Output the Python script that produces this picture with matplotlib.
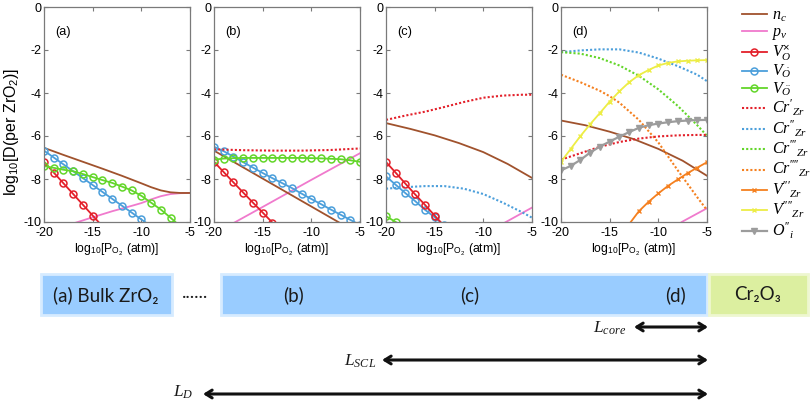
import matplotlib
matplotlib.use("Agg")
import matplotlib.pyplot as plt
from matplotlib.patches import Rectangle
from matplotlib.lines import Line2D

plt.rcParams['font.family'] = ['Liberation Sans', 'DejaVu Sans']
plt.rcParams['mathtext.fontset'] = 'custom'
plt.rcParams['mathtext.rm'] = 'Liberation Sans'
plt.rcParams['mathtext.it'] = 'Liberation Serif:italic'
plt.rcParams['mathtext.bf'] = 'Liberation Sans:bold'

# ---------------- data ----------------
xi = [-20, -19, -18, -17, -16, -15, -14, -13, -12, -11, -10, -9, -8, -7, -6, -5]

# panel (a)
a_nc_x = [-20, -18, -16, -14, -12, -10, -9, -8, -7, -6, -5]
a_nc_y = [-6.55, -6.88, -7.2, -7.52, -7.85, -8.2, -8.38, -8.53, -8.62, -8.65, -8.65]
a_pv_x = [-17, -15, -13, -11, -10, -9, -8, -7, -6, -5]
a_pv_y = [-10.07, -9.78, -9.5, -9.25, -9.12, -8.95, -8.8, -8.7, -8.66, -8.65]
a_vx_x = [-20, -19, -18, -17, -16, -15, -14]
a_vx_y = [-7.2, -7.7, -8.2, -8.7, -9.2, -9.7, -10.2]
a_v1_x = [-20, -19, -18, -17, -16, -15, -14, -13, -12, -11, -10, -9]
a_v1_y = [-6.68, -7.0, -7.32, -7.64, -7.96, -8.28, -8.6, -8.92, -9.24, -9.56, -9.88, -10.2]
a_v2_x = [-20, -19, -18, -17, -16, -15, -14, -13, -12, -11, -10, -9, -8, -7, -6]
a_v2_y = [-7.4, -7.48, -7.57, -7.64, -7.77, -7.91, -8.05, -8.18, -8.35, -8.53, -8.78, -9.1, -9.42, -9.8, -10.2]

# panel (b)
b_nc_x = [-20, -15, -10, -5]
b_nc_y = [-6.68, -7.98, -9.28, -10.58]
b_pv_x = [-18, -15, -10, -5]
b_pv_y = [-10.05, -9.3, -8.04, -6.8]
b_vx_x = [-20, -19, -18, -17, -16, -15, -14]
b_vx_y = [-7.2, -7.68, -8.16, -8.63, -9.1, -9.56, -10.03]
b_v1_x = xi
b_v1_y = [-6.5, -6.71, -6.96, -7.22, -7.47, -7.72, -7.96, -8.19, -8.42, -8.68, -8.93, -9.17, -9.42, -9.66, -9.9, -10.14]
b_v2_x = xi
b_v2_y = [-7.1, -7.05, -7.03, -7.02, -7.02, -7.02, -7.02, -7.02, -7.02, -7.02, -7.03, -7.04, -7.06, -7.08, -7.13, -7.2]
b_cr1_x = [-20, -17, -14, -11, -8, -5]
b_cr1_y = [-6.62, -6.66, -6.68, -6.68, -6.65, -6.58]

# panel (c)
c_nc_x = [-20, -17.5, -15, -12.5, -10, -7.5, -5]
c_nc_y = [-5.4, -5.67, -5.97, -6.33, -6.75, -7.3, -7.95]
c_pv_x = [-8, -5]
c_pv_y = [-10.08, -9.33]
c_vx_x = [-20, -19, -18, -17, -16, -15, -14]
c_vx_y = [-7.21, -7.71, -8.22, -8.72, -9.2, -9.7, -10.2]
c_v1_x = [-20, -19, -18, -17, -16, -15, -14]
c_v1_y = [-7.88, -8.27, -8.66, -9.03, -9.43, -9.78, -10.16]
c_v2_x = [-20, -19, -18]
c_v2_y = [-9.73, -10.0, -10.27]
c_cr1_x = [-20, -18, -16, -14, -12, -10, -8, -6, -5]
c_cr1_y = [-5.25, -5.05, -4.87, -4.65, -4.42, -4.22, -4.12, -4.08, -4.08]
c_cr2_x = [-20, -18, -16, -14, -12, -10, -8, -6, -5]
c_cr2_y = [-8.45, -8.38, -8.33, -8.33, -8.45, -8.7, -9.1, -9.55, -9.8]

# panel (d)
d_nc_x = [-20, -17.5, -15, -12.5, -10, -7.5, -5]
d_nc_y = [-5.28, -5.5, -5.8, -6.15, -6.6, -7.15, -7.85]
d_pv_x = [-7.6, -5]
d_pv_y = [-10.0, -9.36]
d_cr1_x = [-20, -18, -16, -14, -12, -10, -8, -6, -5]
d_cr1_y = [-7.1, -6.8, -6.5, -6.28, -6.12, -6.02, -5.97, -5.95, -5.95]
d_cr2_x = [-20, -18, -16, -14, -12, -10, -8, -6, -5]
d_cr2_y = [-2.1, -2.02, -1.97, -1.97, -2.12, -2.4, -2.75, -3.15, -3.45]
d_cr3_x = [-20, -18, -16, -14, -12, -10, -8, -6, -5]
d_cr3_y = [-2.1, -2.17, -2.38, -2.72, -3.2, -3.83, -4.6, -5.5, -5.99]
d_cr4_x = [-20, -18, -16, -15, -14, -12, -10, -8, -6, -5]
d_cr4_y = [-3.15, -3.5, -3.9, -4.15, -4.45, -5.25, -6.3, -7.6, -8.85, -9.45]
d_vz3_x = [-13, -12, -11, -10, -9, -8, -7, -6, -5]
d_vz3_y = [-10.1, -9.5, -9.06, -8.67, -8.32, -8.02, -7.73, -7.47, -7.22]
d_vz4_x = xi
d_vz4_y = [-7.2, -6.6, -6.0, -5.45, -4.93, -4.4, -3.92, -3.5, -3.17, -2.93, -2.72, -2.6, -2.53, -2.5, -2.48, -2.47]
d_oi_x = xi
d_oi_y = [-7.6, -7.39, -7.11, -6.77, -6.49, -6.26, -6.03, -5.82, -5.62, -5.5, -5.42, -5.36, -5.31, -5.28, -5.26, -5.25]

panel_labels = ['(a)', '(b)', '(c)', '(d)']
x_ticks = [-20, -15, -10, -5]
y_ticks = [0, -2, -4, -6, -8, -10]

legend_labels = [r'$n_c$', r'$p_v$', r'$V_O^{\times}$', r'$V_{\dot{O}}$', r'$V_{\ddot{O}}$',
                 r"$Cr'_{Zr}$", r"$Cr''_{Zr}$", r"$Cr'''_{Zr}$", r"$Cr''''_{Zr}$",
                 r"$V'''_{Zr}$", r"$V''''_{Zr}$", r"$O''_i$"]

# ---------------- styles ----------------
C_BROWN = '#A0522D'
C_PINK = '#F07ACD'
C_RED = '#E3202A'
C_BLUE = '#4C9FDB'
C_GREEN = '#63D62A'
C_ORANGE = '#F5801F'
C_YELLOW = '#EDED45'
C_GRAY = '#9C9C9C'
DOT = (0, (1, 1))

sty = {
    'nc': dict(color=C_BROWN, lw=1.3),
    'pv': dict(color=C_PINK, lw=1.3),
    'vx': dict(color=C_RED, lw=1.3, marker='o', ms=5, mfc='none', mew=1.1),
    'v1': dict(color=C_BLUE, lw=1.3, marker='o', ms=5, mfc='none', mew=1.1),
    'v2': dict(color=C_GREEN, lw=1.3, marker='o', ms=5, mfc='none', mew=1.1),
    'cr1': dict(color=C_RED, lw=1.5, ls=DOT),
    'cr2': dict(color=C_BLUE, lw=1.5, ls=DOT),
    'cr3': dict(color=C_GREEN, lw=1.5, ls=DOT),
    'cr4': dict(color=C_ORANGE, lw=1.5, ls=DOT),
    'vz3': dict(color=C_ORANGE, lw=1.3, marker='x', ms=3.5, mew=1.0),
    'vz4': dict(color=C_YELLOW, lw=1.3, marker='x', ms=3.5, mew=1.0),
    'oi': dict(color=C_GRAY, lw=1.6, marker='v', ms=4.5, mfc=C_GRAY),
}
order = ['nc', 'pv', 'vx', 'v1', 'v2', 'cr1', 'cr2', 'cr3', 'cr4', 'vz3', 'vz4', 'oi']

panels = [
    [('pv', a_pv_x, a_pv_y), ('nc', a_nc_x, a_nc_y), ('vx', a_vx_x, a_vx_y),
     ('v1', a_v1_x, a_v1_y), ('v2', a_v2_x, a_v2_y)],
    [('pv', b_pv_x, b_pv_y), ('nc', b_nc_x, b_nc_y), ('vx', b_vx_x, b_vx_y),
     ('v1', b_v1_x, b_v1_y), ('cr1', b_cr1_x, b_cr1_y), ('v2', b_v2_x, b_v2_y)],
    [('pv', c_pv_x, c_pv_y), ('nc', c_nc_x, c_nc_y), ('cr1', c_cr1_x, c_cr1_y),
     ('cr2', c_cr2_x, c_cr2_y), ('v1', c_v1_x, c_v1_y), ('vx', c_vx_x, c_vx_y),
     ('v2', c_v2_x, c_v2_y)],
    [('pv', d_pv_x, d_pv_y), ('nc', d_nc_x, d_nc_y), ('cr2', d_cr2_x, d_cr2_y),
     ('cr3', d_cr3_x, d_cr3_y), ('cr4', d_cr4_x, d_cr4_y), ('cr1', d_cr1_x, d_cr1_y),
     ('vz3', d_vz3_x, d_vz3_y), ('vz4', d_vz4_x, d_vz4_y), ('oi', d_oi_x, d_oi_y)],
]

W, H = 810, 403
fig = plt.figure(figsize=(W / 100, H / 100), dpi=100)

lefts = [44, 214, 386, 561]
aw = 146
top_px, bot_px = 7, 222
SPINE = '#7A7A7A'
for i, left in enumerate(lefts):
    ax = fig.add_axes([left / W, 1 - bot_px / H, aw / W, (bot_px - top_px) / H])
    for key, xs, ys in panels[i]:
        ax.plot(xs, ys, **sty[key])
    ax.set_xlim(-20, -5)
    ax.set_ylim(-10, 0)
    ax.set_xticks(x_ticks)
    ax.set_yticks(y_ticks)
    ax.set_xticklabels([str(t) for t in x_ticks])
    ax.set_yticklabels([str(t) for t in y_ticks])
    ax.tick_params(direction='in', top=True, right=True, length=3, width=0.8,
                   color=SPINE, labelsize=9, pad=2)
    ax.tick_params(axis='x', pad=3.5)
    for s in ax.spines.values():
        s.set_color(SPINE)
        s.set_linewidth(0.9)
    ax.text(-18.8, -1.15, panel_labels[i], fontsize=9.2, ha='left', va='center')
    ax.set_xlabel(r'log$_{10}$[P$_{\mathrm{O_2}}$ (atm)]', fontsize=8.8, labelpad=2)
    if i == 0:
        ax.set_ylabel(r'log$_{10}$[D(per ZrO$_2$)]', fontsize=11.5)
        ax.yaxis.set_label_coords(-0.16, 0.42)

handles = [Line2D([], [], **sty[k]) for k in order]
fig.legend(handles, legend_labels, loc='upper left', bbox_to_anchor=(742 / W, 1 - 8 / H),
           frameon=False, fontsize=11.5, handlelength=1.55, handletextpad=0.3,
           labelspacing=0.0, borderaxespad=0, borderpad=0)

# ---------------- schematic ----------------
sx = fig.add_axes([0, 0, 1, 1], zorder=-1)
sx.set_xlim(0, W)
sx.set_ylim(H, 0)
sx.axis('off')

BOX_BLUE = '#99CCFF'
BOX_EDGE = '#D6EBFF'
BOX_GREEN = '#DCEFA0'
box_top, box_h = 274, 41
sx.add_patch(Rectangle((41, box_top), 131, box_h, fc=BOX_BLUE, ec=BOX_EDGE, lw=2))
sx.add_patch(Rectangle((221, box_top), 486, box_h, fc=BOX_BLUE, ec=BOX_EDGE, lw=2))
sx.add_patch(Rectangle((709, box_top), 99, box_h, fc=BOX_GREEN, ec='#EEF7D0', lw=2))

bf = dict(fontsize=13.5, family=['Lato', 'DejaVu Sans'], va='center', ha='center', color='#1a1a1a')
ty = 295
sx.text(106, ty, '(a) Bulk ZrO\u2082', **bf)
sx.text(195, ty - 3, '......', **bf)
sx.text(294, ty, '(b)', **bf)
sx.text(470, ty, '(c)', **bf)
sx.text(675, ty, '(d)', **bf)
sx.text(758, ty, 'Cr\u2082O\u2083', **bf)

arrow_kw = dict(arrowstyle='<->,head_length=0.45,head_width=0.28', color='#111111', lw=2.2,
                shrinkA=0, shrinkB=0)
sx.annotate('', xy=(634, 327), xytext=(708, 327), arrowprops=arrow_kw)
sx.annotate('', xy=(382, 360), xytext=(708, 360), arrowprops=arrow_kw)
sx.annotate('', xy=(203, 394), xytext=(708, 394), arrowprops=arrow_kw)
lf = dict(fontsize=12.5, ha='right', va='center', color='#1a1a1a')
sx.text(626, 328, r'$L_{core}$', **lf)
sx.text(376, 361, r'$L_{SCL}$', **lf)
sx.text(193, 392, r'$L_{D}$', **lf)

fig.savefig('out.png', dpi=100)
